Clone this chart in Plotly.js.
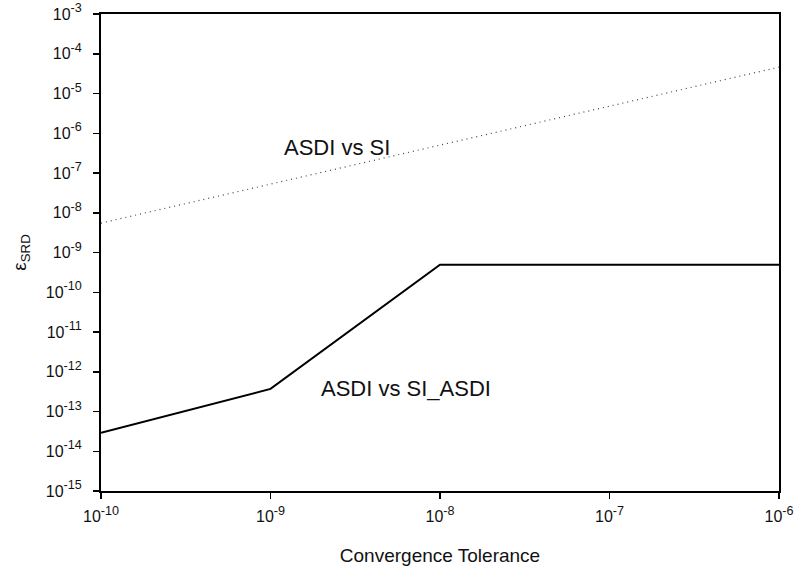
<!DOCTYPE html>
<html>
<head>
<meta charset="utf-8">
<script src="https://cdn.plot.ly/plotly-3.0.1.min.js"></script>
<style>
  html, body { margin: 0; padding: 0; background: #fff; }
  #chart { width: 798px; height: 571px; }
</style>
</head>
<body>
<div id="chart"></div>
<script>
// Convergence tolerance (x) and SRD error for the two comparisons
const tolerance = [1e-10, 1e-9, 1e-8, 1e-7, 1e-6];
const asdiVsSi = [5.5e-9, 5.2e-8, 5.0e-7, 4.8e-6, 4.6e-5];
const asdiVsSiAsdi = [2.9e-14, 3.7e-13, 4.9e-10, 4.9e-10, 4.9e-10];

const xExponents = [-10, -9, -8, -7, -6];
const yExponents = [-15, -14, -13, -12, -11, -10, -9, -8, -7, -6, -5, -4, -3];

// Power-of-ten tick labels; the exponent is set a little larger than the default <sup>
const powerLabel = e => '10<span style="font-size:18px"><sup>' + e + '</sup></span>';
const xTickVals = xExponents.map(e => Math.pow(10, e));
const xTickText = xExponents.map(powerLabel);
const yTickVals = yExponents.map(e => Math.pow(10, e));
const yTickText = yExponents.map(powerLabel);

const family = 'Liberation Sans, Arial, sans-serif';
const labelFont = { family: family, size: 22, color: '#111' };

const traces = [
  {
    x: tolerance, y: asdiVsSi, type: 'scatter', mode: 'lines',
    line: { color: '#444', width: 1.2, dash: '1px,4px' }, name: 'ASDI vs SI'
  },
  {
    x: tolerance, y: asdiVsSiAsdi, type: 'scatter', mode: 'lines',
    line: { color: '#000', width: 2 }, name: 'ASDI vs SI_ASDI'
  }
];

const axisCommon = {
  type: 'log', showgrid: false, zeroline: false,
  showline: true, linecolor: '#000', linewidth: 2, mirror: true,
  ticks: 'outside', ticklen: 6, tickwidth: 1.5, tickcolor: '#000',
  tickfont: { family: family, size: 16, color: '#111' },
  tickmode: 'array'
};

const layout = {
  width: 798, height: 571,
  margin: { l: 101, r: 19, t: 14, b: 80 },
  paper_bgcolor: '#fff', plot_bgcolor: '#fff',
  showlegend: false,
  xaxis: Object.assign({}, axisCommon, {
    range: [-10, -6], tickvals: xTickVals, ticktext: xTickText, ticklabelstandoff: 4,
    title: { text: 'Convergence Tolerance', font: { family: family, size: 19, color: '#111' }, standoff: 24 }
  }),
  yaxis: Object.assign({}, axisCommon, {
    range: [-15, -3], tickvals: yTickVals, ticktext: yTickText, ticklabelstandoff: 8,
    title: { text: 'ε<sub>SRD</sub>', font: { family: family, size: 19, color: '#111' }, standoff: 14 }
  }),
  annotations: [
    { x: -8.61, y: -6.36, xref: 'x', yref: 'y', text: 'ASDI vs SI',
      showarrow: false, font: labelFont },
    { x: -8.20, y: -12.41, xref: 'x', yref: 'y', text: 'ASDI vs SI_ASDI',
      showarrow: false, font: labelFont }
  ]
};

Plotly.newPlot('chart', traces, layout, { displayModeBar: false, staticPlot: true });
</script>
</body>
</html>
